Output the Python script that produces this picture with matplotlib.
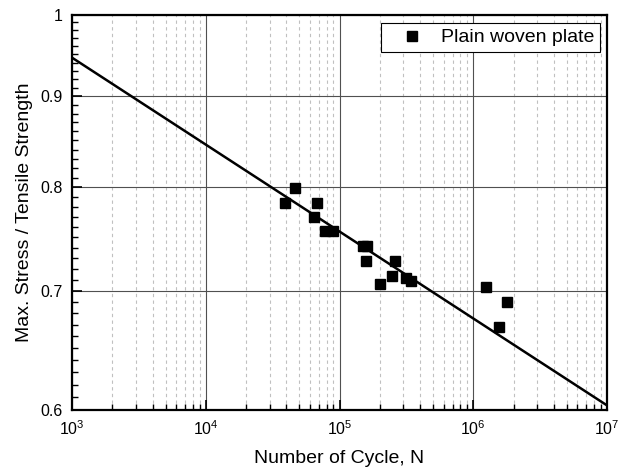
import numpy as np
import matplotlib
matplotlib.use("Agg")
import matplotlib.pyplot as plt
from matplotlib.ticker import FixedLocator, NullFormatter, LogLocator

plt.rcParams['font.family'] = ['Liberation Sans', 'DejaVu Sans']
plt.rcParams['mathtext.fontset'] = 'custom'
plt.rcParams['mathtext.rm'] = 'Liberation Sans'
plt.rcParams['mathtext.it'] = 'Liberation Sans:italic'

cycles = [39300, 46500, 64100, 68200, 78300, 88900, 150600, 161400, 157800,
          200900, 247000, 261300, 316000, 344300, 1252000, 1549000, 1797000]
stress_ratio = [0.784, 0.799, 0.770, 0.784, 0.756, 0.756, 0.742, 0.742, 0.727,
                0.706, 0.713, 0.727, 0.712, 0.709, 0.703, 0.668, 0.690]

# fitted S-N line end points
fit_n = [1e3, 1e7]
fit_s = [0.946, 0.6036]

y_major = [0.6, 0.7, 0.8, 0.9, 1.0]
y_labels = ["0.6", "0.7", "0.8", "0.9", "1"]
x_major = [1e3, 1e4, 1e5, 1e6, 1e7]
x_labels = [r"$10^3$", r"$10^4$", r"$10^5$", r"$10^6$", r"$10^7$"]

fig = plt.figure(figsize=(6.23, 4.71), dpi=100)
ax = fig.add_axes([0.1156, 0.1295, 0.8587, 0.8393])

ax.set_xscale("log")
ax.set_yscale("log")

# fit line, straight on log-log axes
n_line = np.logspace(np.log10(fit_n[0]), np.log10(fit_n[1]), 50)
b = np.log10(fit_s[1] / fit_s[0]) / np.log10(fit_n[1] / fit_n[0])
s_line = fit_s[0] * (n_line / fit_n[0]) ** b
ax.plot(n_line, s_line, color="black", lw=1.8, zorder=3)

ax.plot(cycles, stress_ratio, "s", color="black", ms=6.5, ls="none",
        label="Plain woven plate", zorder=4)

ax.set_xlim(1e3, 1e7)
ax.set_ylim(0.6, 1.0)

ax.xaxis.set_major_locator(FixedLocator(x_major))
ax.set_xticklabels(x_labels)
ax.xaxis.set_minor_locator(LogLocator(base=10, subs=np.arange(2, 10)))
ax.xaxis.set_minor_formatter(NullFormatter())

ax.yaxis.set_major_locator(FixedLocator(y_major))
ax.set_yticklabels(y_labels)
ax.yaxis.set_minor_locator(FixedLocator(np.arange(0.61, 1.0, 0.01)))
ax.yaxis.set_minor_formatter(NullFormatter())

ax.tick_params(which="major", direction="in", length=7, width=1.2,
               labelsize=11.5, top=False, right=False, pad=7)
ax.tick_params(which="minor", direction="in", length=4, width=1.0,
               top=False, right=False)

ax.grid(True, which="major", color="#505050", lw=0.8)
ax.grid(True, which="minor", axis="x", color="#c0c0c0", lw=0.8, ls=(0, (3, 3)))
ax.set_axisbelow(True)

for sp in ax.spines.values():
    sp.set_linewidth(1.6)

ax.set_xlabel("Number of Cycle, N", fontsize=14, labelpad=8)
ax.set_ylabel("Max. Stress / Tensile Strength", fontsize=14, labelpad=5)

leg = ax.legend(loc="upper right", fontsize=14, fancybox=False, framealpha=1,
                edgecolor="black", borderpad=0.3, handlelength=2.6,
                handletextpad=0.2, borderaxespad=0,
                bbox_to_anchor=(0.987, 0.979))
leg.get_frame().set_linewidth(0.8)

fig.savefig("out.png", dpi=100)
